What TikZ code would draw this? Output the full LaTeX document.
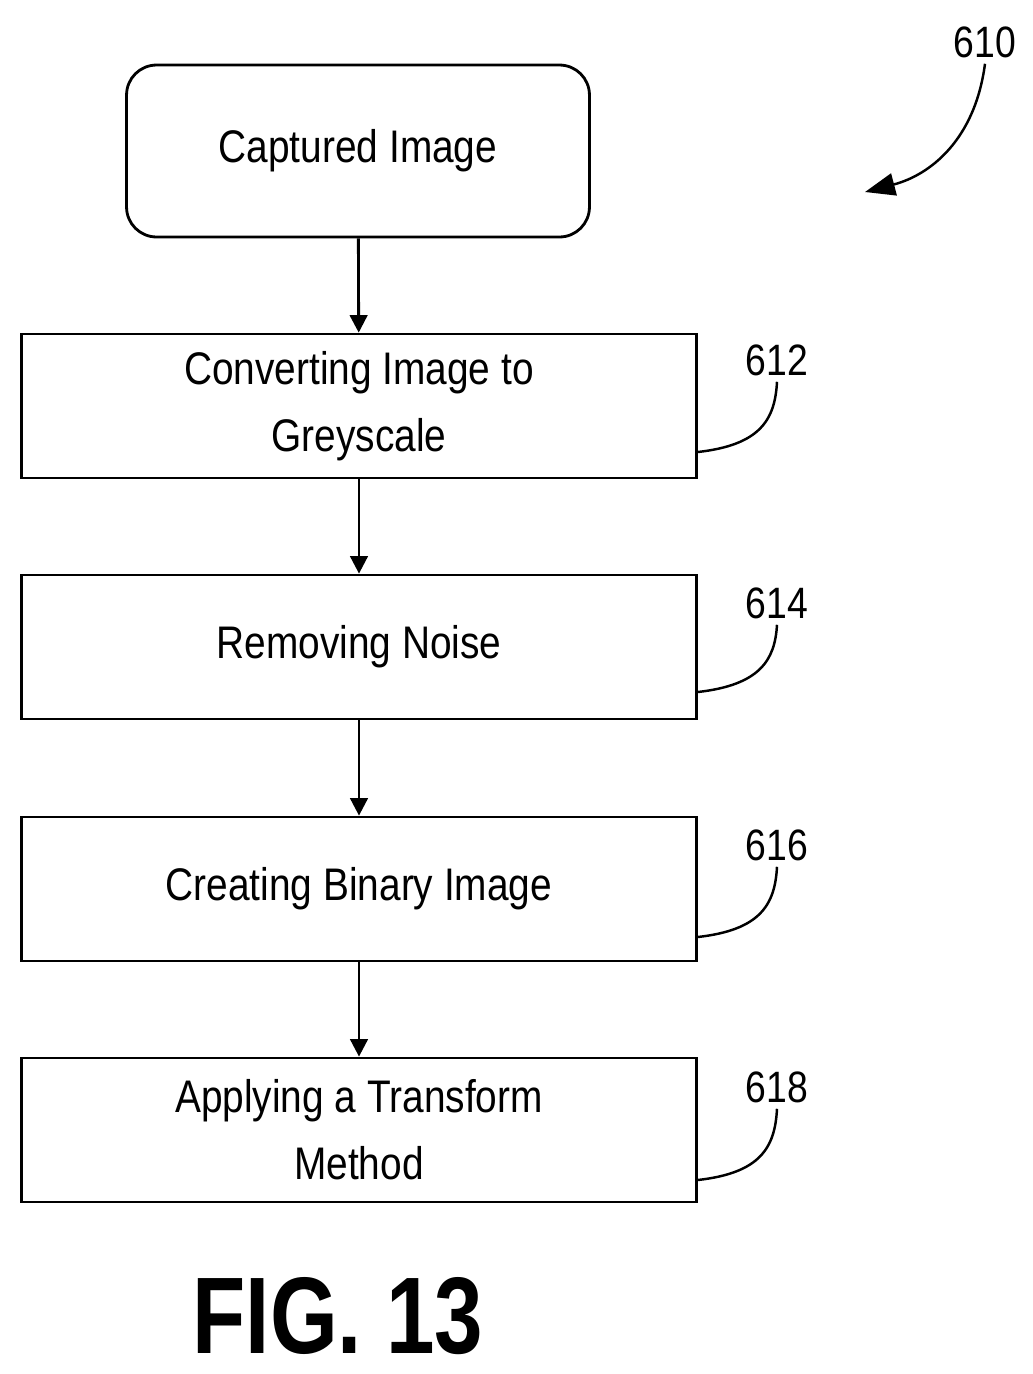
\documentclass[tikz,border=0pt]{standalone}
\usepackage{fontspec}
\setmainfont{Liberation Sans}
\usetikzlibrary{positioning, arrows.meta}
\newcommand{\nar}[1]{\scalebox{0.85}[1]{#1}}
\tikzset{box/.style={draw, line width=1.6pt, minimum width=13.5cm, minimum height=2.88cm, align=center, font=\fontsize{26}{38}\selectfont},
         flow/.style={-{Triangle[length=0.35cm, width=0.35cm]}, line width=1.6pt},
         lead/.style={line width=1.4pt},
         refnum/.style={font=\fontsize{25}{30}\selectfont}}

\begin{document}
\begin{tikzpicture}[x=0.02cm, y=-0.02cm]
    \useasboundingbox (0,0) rectangle (1033,1374);
    % Nodes
    \node[box, rounded corners=0.6cm, minimum width=9.26cm, minimum height=3.44cm] (cap) at (358,151) {\nar{Captured Image}};
    \node[box] (grey) at (359,406) {\nar{Converting Image to}\\\nar{Greyscale}};
    \node[box] (noise) at (359,647) {\nar{Removing Noise}};
    \node[box] (bin) at (359,889) {\nar{Creating Binary Image}};
    \node[box] (trans) at (359,1130) {\nar{Applying a Transform}\\\nar{Method}};

    % Flow arrows
    \draw[flow] (cap) -- (grey);
    \draw[flow] (grey) -- (noise);
    \draw[flow] (noise) -- (bin);
    \draw[flow] (bin) -- (trans);

    % Reference numerals
    \node[refnum] (n610) at (985,42) {\nar{610}};
    \node[refnum] (n612) at (777,360) {\nar{612}};
    \node[refnum] (n614) at (777,603) {\nar{614}};
    \node[refnum] (n616) at (777,845) {\nar{616}};
    \node[refnum] (n618) at (777,1087) {\nar{618}};
    \coordinate (tip610) at (865,192);
    \draw[lead, -{Triangle[length=0.6cm, width=0.45cm]}] (n610.south) .. controls (975,140) and (930,175) .. (tip610);
    \draw[lead] (grey.east |- 0,452) .. controls (760,445) and (775,420) .. (n612.south);
    \draw[lead] (noise.east |- 0,692) .. controls (760,685) and (775,660) .. (n614.south);
    \draw[lead] (bin.east |- 0,937) .. controls (760,930) and (775,905) .. (n616.south);
    \draw[lead] (trans.east |- 0,1180) .. controls (760,1173) and (775,1148) .. (n618.south);

    \node[font=\fontsize{62}{66}\selectfont\bfseries] (fig) at (338,1316) {\scalebox{0.8}[1]{FIG. 13}};
\end{tikzpicture}
\end{document}
